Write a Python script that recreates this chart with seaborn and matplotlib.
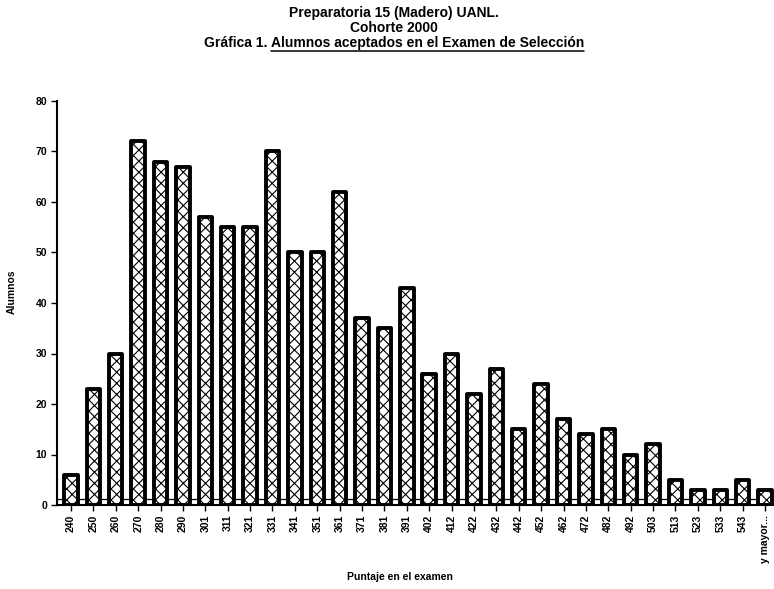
import matplotlib
matplotlib.use("Agg")
import matplotlib.pyplot as plt
import seaborn as sns
import pandas as pd
from matplotlib.lines import Line2D

categories = ["240", "250", "260", "270", "280", "290", "301", "311", "321", "331",
              "341", "351", "361", "371", "381", "391", "402", "412", "422", "432",
              "442", "452", "462", "472", "482", "492", "503", "513", "523", "533",
              "543", "y mayor..."]
alumnos = [6, 23, 30, 72, 68, 67, 57, 55, 55, 70,
           50, 50, 62, 37, 35, 43, 26, 30, 22, 27,
           15, 24, 17, 14, 15, 10, 12, 5, 3, 3,
           5, 3]
y_ticks = [0, 10, 20, 30, 40, 50, 60, 70, 80]

title1 = "Preparatoria 15 (Madero) UANL."
title2 = "Cohorte 2000"
title3a = "Gráfica 1. "
title3b = "Alumnos aceptados en el Examen de Selección"
ylabel = "Alumnos"
xlabel = "Puntaje en el examen"

sns.set_theme(style="white")
plt.rcParams["font.family"] = ["Liberation Sans", "DejaVu Sans"]
plt.rcParams["text.color"] = "black"
plt.rcParams["axes.labelcolor"] = "black"
plt.rcParams["xtick.color"] = "black"
plt.rcParams["ytick.color"] = "black"
plt.rcParams["hatch.color"] = "#8a8a8a"
plt.rcParams["hatch.linewidth"] = 0.8

df = pd.DataFrame({"Puntaje": categories, "Alumnos": alumnos})

fig = plt.figure(figsize=(7.74, 5.89), dpi=100)
ax = fig.add_axes([57 / 774, 84 / 589, 717 / 774, 404 / 589])

sns.barplot(data=df, x="Puntaje", y="Alumnos", order=categories, ax=ax,
            color="white", edgecolor="black", linewidth=2.8, width=0.6,
            saturation=1)
for p in ax.patches:
    p.set_hatch("xxx")
    p.set_joinstyle("round")

ax.axhline(1.1, color="black", lw=0.9, zorder=0.5)

ax.set_ylim(0, 80)
ax.set_xlim(-0.625, 31.4)
ax.set_yticks(y_ticks)
ax.set_yticklabels([str(v) for v in y_ticks], fontsize=7.5, fontweight="bold")
ax.set_xticks(range(len(categories)))
ax.set_xticklabels(categories, rotation=90, fontsize=7.5, fontweight="bold")
ax.tick_params(axis="both", direction="out", length=4, width=1, color="black",
               left=True, bottom=True, pad=3)
ax.set_xlabel("")
ax.set_ylabel("")

for s in ["top", "right"]:
    ax.spines[s].set_visible(False)
for s in ["left", "bottom"]:
    ax.spines[s].set_color("black")
    ax.spines[s].set_linewidth(1.5)

fig.text(12 / 774, 1 - 292 / 589, ylabel, rotation=90, ha="center", va="center",
         fontsize=7.5, fontweight="bold")
fig.text(400 / 774, 1 - 577 / 589, xlabel, ha="center", va="center",
         fontsize=7.5, fontweight="bold")

cx = 394 / 774
fs = 10
fig.text(cx, 1 - 13 / 589, title1, ha="center", va="center", fontsize=fs, fontweight="bold")
fig.text(cx, 1 - 28 / 589, title2, ha="center", va="center", fontsize=fs, fontweight="bold")

# third title line with underlined part
fig.canvas.draw()
renderer = fig.canvas.get_renderer()
ta = fig.text(0, 1 - 43 / 589, title3a, ha="left", va="center", fontsize=fs, fontweight="bold")
tb = fig.text(0, 1 - 43 / 589, title3b, ha="left", va="center", fontsize=fs, fontweight="bold")
wa = ta.get_window_extent(renderer).width
wb = tb.get_window_extent(renderer).width
W = fig.bbox.width
total = wa + wb
x0 = cx - total / 2 / W
ta.set_x(x0)
tb.set_x(x0 + wa / W)
uy = (1 - 43 / 589) - 7.5 / fig.bbox.height
fig.add_artist(Line2D([x0 + wa / W, x0 + (wa + wb) / W], [uy, uy],
                      transform=fig.transFigure, color="black", lw=1.1))

fig.savefig("out.png", dpi=100)
